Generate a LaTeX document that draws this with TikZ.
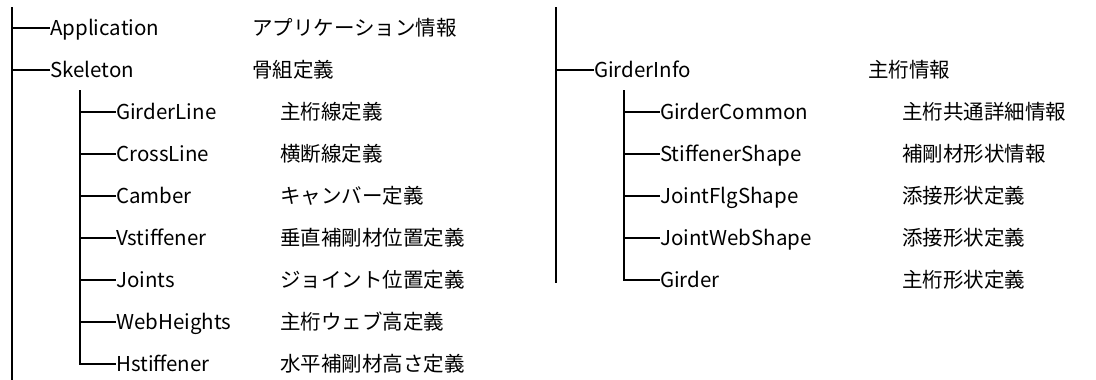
\documentclass[tikz,border=0pt]{standalone}
\usepackage{fontspec}
\setmainfont{Noto Sans CJK JP}
\begin{document}
\begin{tikzpicture}[x=1pt,y=-1pt,
  lbl/.style={anchor=west,inner sep=0pt,text height=19pt,text depth=4pt,font=\fontsize{20.5}{24}\selectfont},
  ln/.style={line width=2pt,line join=miter}]
\useasboundingbox (0,0) rectangle (1096,380);
% trunks
\coordinate (LT) at (12,7);
\coordinate (LB) at (12,380);
\coordinate (ST) at (80,90);
\coordinate (RT) at (556,7);
\coordinate (RB) at (556,283);
\coordinate (GT) at (624,90);
% left names
\node[lbl] (app) at (50,28) {Application};
\node[lbl] (ske) at (50,70) {Skeleton};
\node[lbl] (gl) at (116,112) {GirderLine};
\node[lbl] (cl) at (116,154) {CrossLine};
\node[lbl] (cam) at (116,196) {Camber};
\node[lbl] (vst) at (116,238) {Vstiffener};
\node[lbl] (jnt) at (116,280) {Joints};
\node[lbl] (wh) at (116,322) {WebHeights};
\node[lbl] (hst) at (116,364) {Hstiffener};
% left japanese
\node[lbl] (japp) at (252,28) {アプリケーション情報};
\node[lbl] (jske) at (252,70) {骨組定義};
\node[lbl] (jgl) at (280,112) {主桁線定義};
\node[lbl] (jcl) at (280,154) {横断線定義};
\node[lbl] (jcam) at (280,196) {キャンバー定義};
\node[lbl] (jvst) at (280,238) {垂直補剛材位置定義};
\node[lbl] (jjnt) at (280,280) {ジョイント位置定義};
\node[lbl] (jwh) at (280,322) {主桁ウェブ高定義};
\node[lbl] (jhst) at (280,364) {水平補剛材高さ定義};
% right names
\node[lbl] (gi) at (594,70) {GirderInfo};
\node[lbl] (gc) at (660,112) {GirderCommon};
\node[lbl] (ss) at (660,154) {StiffenerShape};
\node[lbl] (jf) at (660,196) {JointFlgShape};
\node[lbl] (jw) at (660,238) {JointWebShape};
\node[lbl] (gd) at (660,280) {Girder};
% right japanese
\node[lbl] (jgi) at (868,70) {主桁情報};
\node[lbl] (jgc) at (902,112) {主桁共通詳細情報};
\node[lbl] (jss) at (902,154) {補剛材形状情報};
\node[lbl] (jjf) at (902,196) {添接形状定義};
\node[lbl] (jjw) at (902,238) {添接形状定義};
\node[lbl] (jgd) at (902,280) {主桁形状定義};
% connectors
\draw[ln] (LT) -- (LB);
\draw[ln] (LT |- app.west) -- (app.west);
\draw[ln] (LT |- ske.west) -- (ske.west);
\draw[ln] (ST) -- (ST |- hst.west) -- (hst.west);
\foreach \n in {gl,cl,cam,vst,jnt,wh}
  \draw[ln] (ST |- \n.west) -- (\n.west);
\draw[ln] (RT) -- (RB);
\draw[ln] (RT |- gi.west) -- (gi.west);
\draw[ln] (GT) -- (GT |- gd.west) -- (gd.west);
\foreach \n in {gc,ss,jf,jw}
  \draw[ln] (GT |- \n.west) -- (\n.west);
\end{tikzpicture}
\end{document}
